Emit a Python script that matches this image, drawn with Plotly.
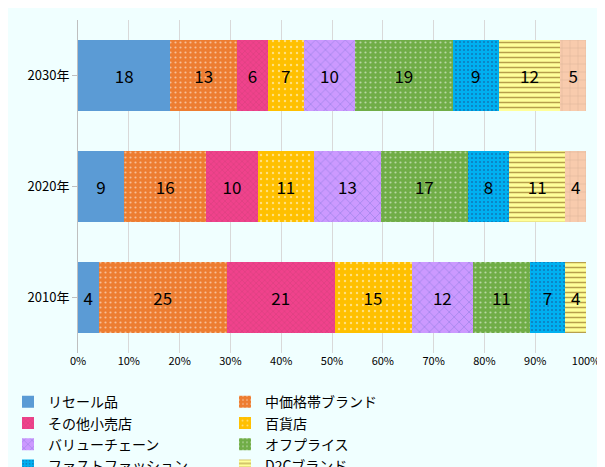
import plotly.graph_objects as go

years = ['2010年', '2020年', '2030年']
series = ['リセール品', '中価格帯ブランド', 'その他小売店', '百貨店', 'バリューチェーン',
          'オフプライス', 'ファストファッション', 'D2Cブランド', 'アマゾン・ファッション']
values = {
    'リセール品': [4, 9, 18],
    '中価格帯ブランド': [25, 16, 13],
    'その他小売店': [21, 10, 6],
    '百貨店': [15, 11, 7],
    'バリューチェーン': [12, 13, 10],
    'オフプライス': [11, 17, 19],
    'ファストファッション': [7, 8, 9],
    'D2Cブランド': [4, 11, 12],
    'アマゾン・ファッション': [0, 4, 5],
}
colors = ['#5B9BD5', '#ED7D31', '#F0428C', '#FFC000', '#CC99FF',
          '#70AD47', '#00B0F0', '#FFFF99', '#F8CBAD']
patterns = [
    dict(shape=''),
    dict(shape='.', fgcolor='white', size=5, solidity=0.15),
    dict(shape='x', fgcolor='#C04070', size=4, solidity=0.3),
    dict(shape='.', fgcolor='white', size=6, solidity=0.12),
    dict(shape='x', fgcolor='#5060C0', size=7, solidity=0.15),
    dict(shape='.', fgcolor='white', size=5, solidity=0.15),
    dict(shape='.', fgcolor='#204080', size=4, solidity=0.2),
    dict(shape='-', fgcolor='#704000', size=5, solidity=0.3),
    dict(shape='+', fgcolor='#A08070', size=8, solidity=0.08),
]

fig = go.Figure()
for name, c, p in zip(series, colors, patterns):
    v = values[name]
    fig.add_trace(go.Bar(
        y=years, x=v, name=name, orientation='h',
        marker=dict(color=c, line=dict(width=0), pattern=p),
        text=[str(t) if t else '' for t in v], textposition='inside',
        insidetextanchor='middle', textangle=0,
        textfont=dict(size=17, color='black', family='Noto Sans CJK JP'),
    ))

fig.update_layout(
    barmode='stack', barnorm='percent', bargap=0.36,
    width=605, height=467,
    paper_bgcolor='#F0FFFF', plot_bgcolor='#F0FFFF',
    margin=dict(l=70, r=27, t=12, b=122),
    font=dict(family='Noto Sans CJK JP', size=13, color='black'),
    uniformtext=dict(minsize=10, mode='show'),
    xaxis=dict(range=[0, 100], dtick=10, ticksuffix='%', showgrid=True,
               gridcolor='#D9D9D9', zeroline=False, tickfont=dict(size=11),
               automargin=False),
    yaxis=dict(showline=True, linecolor='#BFBFBF', ticks='outside',
               tickcolor='#BFBFBF', ticklen=5, tickfont=dict(size=13),
               automargin=False),
    legend=dict(orientation='h', x=0.0, y=0.19, xref='container', yref='container',
                xanchor='left', yanchor='top',
                entrywidth=172, font=dict(size=14), traceorder='normal',
                itemwidth=30, tracegroupgap=0),
)

fig.write_html("out.html")
